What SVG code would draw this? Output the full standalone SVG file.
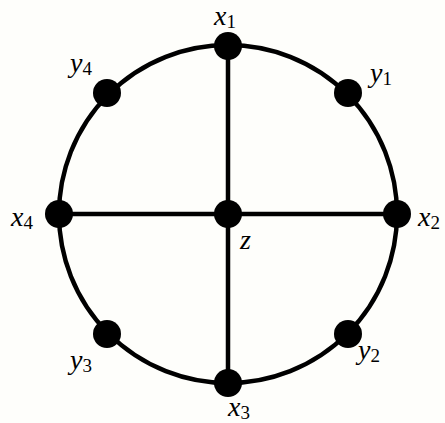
<svg xmlns="http://www.w3.org/2000/svg" width="445" height="423" viewBox="0 0 445 423">
<style>
.e{stroke:#000;stroke-width:4.5;fill:none}
.n{fill:#000}
text{font-family:'Liberation Serif','Times New Roman','DejaVu Serif',serif;font-style:italic;font-size:28px;fill:#000}
.s{font-style:normal;font-size:19px}
</style>
<rect width="445" height="423" fill="#fefefb"/>
<g id="connectors">
<circle class="e" cx="228" cy="214" r="169"/>
<line class="e" x1="228" y1="46" x2="228" y2="383"/>
<line class="e" x1="59" y1="214" x2="397" y2="214"/>
</g>
<g id="x1"><circle class="n" cx="228" cy="46" r="14"/><text x="214" y="25">x<tspan class="s" dy="3">1</tspan></text></g>
<g id="y1"><circle class="n" cx="348" cy="93" r="14"/><text x="370" y="82">y<tspan class="s" dy="3">1</tspan></text></g>
<g id="x2"><circle class="n" cx="397" cy="214" r="14"/><text x="418" y="226">x<tspan class="s" dy="3">2</tspan></text></g>
<g id="y2"><circle class="n" cx="348" cy="334" r="14"/><text x="358" y="359">y<tspan class="s" dy="3">2</tspan></text></g>
<g id="x3"><circle class="n" cx="228" cy="383" r="14"/><text x="228" y="416">x<tspan class="s" dy="3">3</tspan></text></g>
<g id="y3"><circle class="n" cx="107" cy="334" r="14"/><text x="70" y="369">y<tspan class="s" dy="3">3</tspan></text></g>
<g id="x4"><circle class="n" cx="59" cy="214" r="14"/><text x="11" y="226">x<tspan class="s" dy="3">4</tspan></text></g>
<g id="y4"><circle class="n" cx="107" cy="93" r="14"/><text x="70" y="72">y<tspan class="s" dy="3">4</tspan></text></g>
<g id="z"><circle class="n" cx="228" cy="214" r="14"/><text x="240" y="249">z</text></g>
</svg>
